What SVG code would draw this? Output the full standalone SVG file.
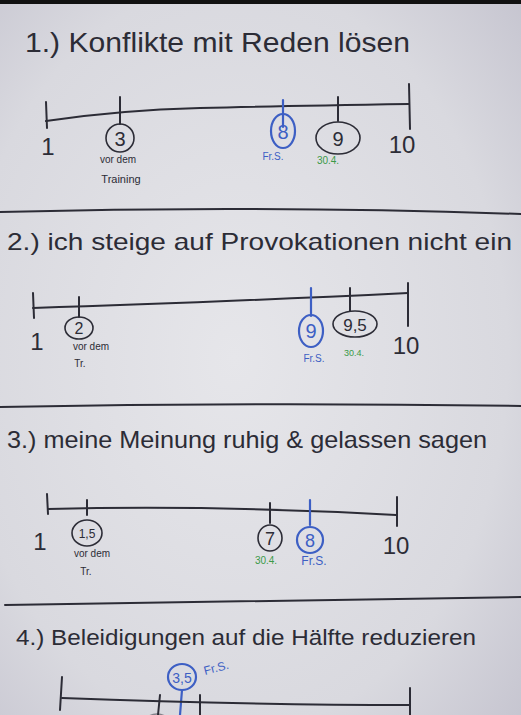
<svg xmlns="http://www.w3.org/2000/svg" width="521" height="715" viewBox="0 0 521 715">
<style>
  .ink{fill:none;stroke:#2c2c36;stroke-width:2;stroke-linecap:round}
  .thin{fill:none;stroke:#2c2c36;stroke-width:1.6}
  .blue{fill:none;stroke:#3d5fc4;stroke-width:2.2;stroke-linecap:round}
  .t{font-family:"Liberation Sans","DejaVu Sans",sans-serif;fill:#2c2c36}
  .num{font-size:24px}
  .small{font-size:10px}
  .c{text-anchor:middle}
  .tb{fill:#3d5fc4}
  .tg{fill:#3a9a48}
</style>
<defs>
  <radialGradient id="paper" cx="0.45" cy="0.5" r="0.75">
    <stop offset="0" stop-color="#e6e6ea"/>
    <stop offset="0.7" stop-color="#d9d9df"/>
    <stop offset="1" stop-color="#c6c5d0"/>
  </radialGradient>
</defs>
<rect x="0" y="0" width="521" height="715" fill="url(#paper)"/>
<rect x="0" y="0" width="521" height="4" fill="#111"/>

<g id="section1">
  <text class="t" x="25" y="52" font-size="28" textLength="385" lengthAdjust="spacingAndGlyphs">1.) Konflikte mit Reden lösen</text>
  <path class="ink" d="M46,121 Q120,110 200,108 T409,104"/>
  <path class="ink" d="M46,102 L47,128 M120,97 L120,124 M338,97 L338,121 M409,84 L410,129"/>
  <path class="blue" d="M283,100 L283,127"/>
  <ellipse class="thin" cx="120" cy="138" rx="14" ry="14"/>
  <ellipse class="blue" cx="283" cy="131" rx="12" ry="17"/>
  <ellipse class="thin" cx="338" cy="138" rx="22" ry="16"/>
  <text class="t c" x="120" y="146" font-size="20">3</text>
  <text class="t c tb" x="283" y="139" font-size="20">8</text>
  <text class="t c" x="338" y="146" font-size="20">9</text>
  <text class="t num c" x="48" y="155">1</text>
  <text class="t num c" x="402" y="153">10</text>
  <text class="t small c" x="118" y="163">vor dem</text>
  <text class="t c" x="121" y="183" font-size="11">Training</text>
  <text class="t small c tb" x="273" y="160">Fr.S.</text>
  <text class="t small c tg" x="328" y="164">30.4.</text>
</g>

<g id="section2">
  <path class="ink" d="M0,212 Q260,205 521,214"/>
  <text class="t" x="7" y="250" font-size="24" textLength="505" lengthAdjust="spacingAndGlyphs">2.) ich steige auf Provokationen nicht ein</text>
  <path class="ink" d="M33,308 Q200,303 408,293"/>
  <path class="ink" d="M33,293 L34,318 M79,297 L79,317 M350,288 L350,311 M408,283 L408,326"/>
  <path class="blue" d="M311,288 L311,316"/>
  <ellipse class="thin" cx="79" cy="328" rx="14" ry="11"/>
  <ellipse class="blue" cx="311" cy="331" rx="12" ry="16"/>
  <ellipse class="thin" cx="355" cy="324" rx="22" ry="13"/>
  <text class="t c" x="79" y="334" font-size="16">2</text>
  <text class="t c tb" x="311" y="338" font-size="20">9</text>
  <text class="t c" x="355" y="331" font-size="17">9,5</text>
  <text class="t num c" x="37" y="350">1</text>
  <text class="t num c" x="406" y="354">10</text>
  <text class="t small c" x="91" y="350">vor dem</text>
  <text class="t small c" x="80" y="367">Tr.</text>
  <text class="t small c tb" x="314" y="362">Fr.S.</text>
  <text class="t c tg" x="354" y="356" font-size="9">30.4.</text>
</g>

<g id="section3">
  <path class="ink" d="M0,407 Q260,402 521,406"/>
  <text class="t" x="7" y="448" font-size="24" textLength="480" lengthAdjust="spacingAndGlyphs">3.) meine Meinung ruhig &amp; gelassen sagen</text>
  <path class="ink" d="M48,509 Q220,505 396,515"/>
  <path class="ink" d="M47,494 L48,514 M87,500 L87,515 M270,503 L270,523 M397,497 L397,526"/>
  <path class="blue" d="M310,500 L310,525"/>
  <ellipse class="thin" cx="87" cy="533" rx="15" ry="13"/>
  <ellipse class="thin" cx="270" cy="538" rx="12" ry="13"/>
  <ellipse class="blue" cx="310" cy="540" rx="13" ry="13"/>
  <text class="t c" x="87" y="538" font-size="12">1,5</text>
  <text class="t c" x="270" y="545" font-size="18">7</text>
  <text class="t c tb" x="310" y="547" font-size="18">8</text>
  <text class="t num c" x="40" y="550">1</text>
  <text class="t num c" x="396" y="554">10</text>
  <text class="t small c" x="92" y="557">vor dem</text>
  <text class="t small c" x="86" y="575">Tr.</text>
  <text class="t small c tg" x="266" y="564">30.4.</text>
  <text class="t c tb" x="314" y="565" font-size="12">Fr.S.</text>
</g>

<g id="section4">
  <path class="ink" d="M5,605 Q260,600 521,597"/>
  <text class="t" x="16" y="645" font-size="22" textLength="460" lengthAdjust="spacingAndGlyphs">4.) Beleidigungen auf die Hälfte reduzieren</text>
  <ellipse class="blue" cx="182" cy="677" rx="14" ry="13"/>
  <text class="t c tb" x="182" y="683" font-size="14">3,5</text>
  <path class="blue" d="M182,690 L180,715"/>
  <text class="t tb" x="205" y="675" font-size="12" transform="rotate(-15 205 675)">Fr.S.</text>
  <path class="ink" d="M62,698 Q250,705 410,705"/>
  <path class="ink" d="M62,677 L60,710 M160,695 L158,715 M200,695 L200,715 M410,688 L410,715"/>
  <ellipse class="thin" cx="157" cy="727" rx="14" ry="13" stroke-opacity="0.5"/>
</g>
</svg>
